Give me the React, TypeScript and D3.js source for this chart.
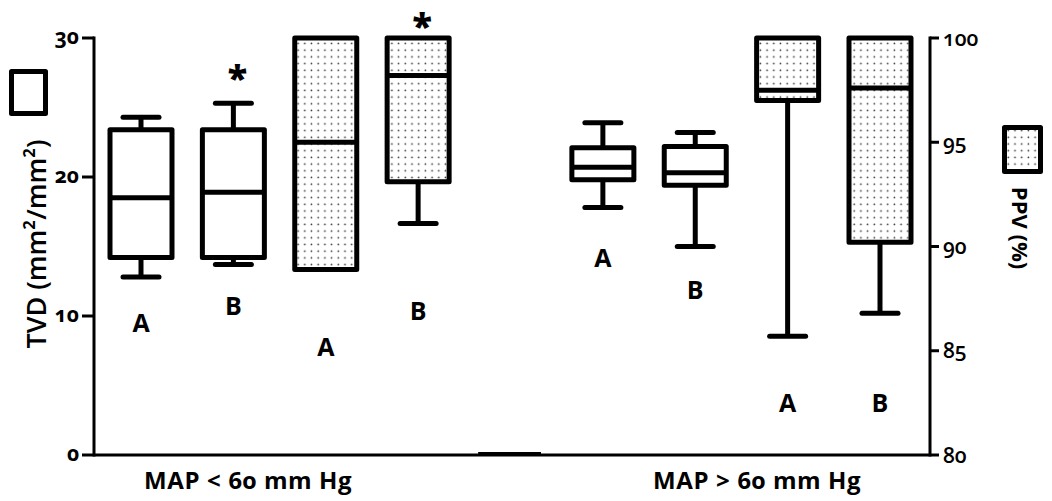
import React from "react";
import * as d3 from "d3";

// ---- data ----
const slotCount = 9; // 8 boxes + one empty gap slot between the two MAP groups
const boxSlot = [0, 1, 2, 3, 5, 6, 7, 8];
const boxSeries = ["TVD", "TVD", "PPV", "PPV", "TVD", "TVD", "PPV", "PPV"];
const boxMin = [12.8, 13.7, 88.9, 91.1, 17.8, 15.0, 85.7, 86.8];
const boxQ1 = [14.2, 14.2, 88.9, 93.1, 19.8, 19.4, 97.0, 90.2];
const boxMedian = [18.5, 18.9, 95.0, 98.2, 20.7, 20.3, 97.5, 97.6];
const boxQ3 = [23.4, 23.4, 100, 100, 22.1, 22.2, 100, 100];
const boxMax = [24.3, 25.3, 100, 100, 23.9, 23.2, 100, 100];
const boxLetter = ["A", "B", "A", "B", "A", "B", "A", "B"];
const letterValue = [9.5, 10.7, 85.2, 86.9, 14.2, 11.9, 82.5, 82.5];
const starBox = [1, 3];
const starValue = [27.8, 101.0];
const tvdTicks = [0, 10, 20, 30];
const ppvTicks = [80, 85, 90, 95, 100];
const groupLabels = ["MAP < 60 mm Hg", "MAP > 60 mm Hg"];
const groupLabelSlot = [1.16, 6.67];
const leftTitle = "TVD (mm²/mm²)";
const rightTitle = "PPV (%)";

const W = 1052;
const H = 501;
const FONT = "'Open Sans', 'DejaVu Sans', sans-serif";

export default function App() {
  const x = d3.scaleLinear().domain([0, slotCount - 1]).range([141, 880]);
  const yL = d3.scaleLinear().domain([0, 30]).range([455, 38]);
  const yR = d3.scaleLinear().domain([80, 100]).range([455, 38]);
  const axisL = 94;
  const axisR = 930;
  const boxW = 62;
  const capW = 36;
  const sw = 5;

  return (
    <svg
      width={W}
      height={H}
      style={{ position: "absolute", left: 0, top: 0, display: "block", background: "#fff" }}
      fontFamily={FONT}
    >
      <defs>
        <pattern id="dots" width={6.7} height={6.7} patternUnits="userSpaceOnUse">
          <rect width={6.7} height={6.7} fill="#fff" />
          <circle cx={3.3} cy={3.3} r={0.85} fill="#333" />
        </pattern>
      </defs>
      <rect width={W} height={H} fill="#fff" />

      {/* left axis */}
      <line x1={axisL} x2={axisL} y1={yL(30) - 1.5} y2={yL(0) + 1.5} stroke="#000" strokeWidth={3} />
      {tvdTicks.map((t) => (
        <g key={"tl" + t}>
          <line x1={axisL - 12} x2={axisL} y1={yL(t)} y2={yL(t)} stroke="#000" strokeWidth={3} />
          <text
            x={axisL - 15}
            y={yL(t)}
            dy="0.3em"
            textAnchor="end"
            fontSize={21}
            fontWeight={700}
            style={{ fontVariantNumeric: "oldstyle-nums" }}
          >
            {t}
          </text>
        </g>
      ))}

      {/* right axis */}
      <line x1={axisR} x2={axisR} y1={yR(100) - 1.5} y2={yR(80) + 1.5} stroke="#000" strokeWidth={3} />
      {ppvTicks.map((t) => (
        <g key={"tr" + t}>
          <line x1={axisR} x2={axisR + 9} y1={yR(t)} y2={yR(t)} stroke="#000" strokeWidth={3} />
          <text
            x={axisR + 13}
            y={yR(t)}
            dy="0.36em"
            textAnchor="start"
            fontSize={21}
            fontWeight={600}
            style={{ fontVariantNumeric: "oldstyle-nums" }}
          >
            {t}
          </text>
        </g>
      ))}

      {/* bottom axis */}
      <line x1={axisL} x2={axisR} y1={yL(0)} y2={yL(0)} stroke="#000" strokeWidth={3} />
      <rect x={x(3.65)} y={yL(0) - 3} width={x(4.33) - x(3.65)} height={4} fill="#000" />

      {/* boxes */}
      {boxSlot.map((s, i) => {
        const y = boxSeries[i] === "TVD" ? yL : yR;
        const cx = x(s);
        const fill = boxSeries[i] === "TVD" ? "#fff" : "url(#dots)";
        return (
          <g key={"b" + i}>
            {boxMax[i] > boxQ3[i] && (
              <g>
                <line x1={cx} x2={cx} y1={y(boxQ3[i])} y2={y(boxMax[i])} stroke="#000" strokeWidth={sw} />
                <line
                  x1={cx - capW / 2}
                  x2={cx + capW / 2}
                  y1={y(boxMax[i])}
                  y2={y(boxMax[i])}
                  stroke="#000"
                  strokeWidth={sw}
                  strokeLinecap="round"
                />
              </g>
            )}
            {boxMin[i] < boxQ1[i] && (
              <g>
                <line x1={cx} x2={cx} y1={y(boxQ1[i])} y2={y(boxMin[i])} stroke="#000" strokeWidth={sw} />
                <line
                  x1={cx - capW / 2}
                  x2={cx + capW / 2}
                  y1={y(boxMin[i])}
                  y2={y(boxMin[i])}
                  stroke="#000"
                  strokeWidth={sw}
                  strokeLinecap="round"
                />
              </g>
            )}
            <rect
              x={cx - boxW / 2}
              y={y(boxQ3[i])}
              width={boxW}
              height={y(boxQ1[i]) - y(boxQ3[i])}
              fill={fill}
              stroke="#000"
              strokeWidth={sw}
              strokeLinejoin="round"
            />
            <line
              x1={cx - boxW / 2}
              x2={cx + boxW / 2}
              y1={y(boxMedian[i])}
              y2={y(boxMedian[i])}
              stroke="#000"
              strokeWidth={sw}
            />
            <text x={cx} y={y(letterValue[i])} dy="0.36em" textAnchor="middle" fontSize={25} fontWeight={700}>
              {boxLetter[i]}
            </text>
          </g>
        );
      })}

      {/* stars */}
      {starBox.map((b, k) => {
        const y = boxSeries[b] === "TVD" ? yL : yR;
        return (
          <text key={"s" + k} x={x(boxSlot[b]) + 4} y={y(starValue[k])} dy="0.62em" textAnchor="middle" fontSize={36} fontWeight={800}>
            *
          </text>
        );
      })}

      {/* group labels */}
      {groupLabels.map((g, i) => (
        <text
          key={"g" + i}
          x={x(groupLabelSlot[i])}
          y={489}
          textAnchor="middle"
          fontSize={24}
          fontWeight={700}
          letterSpacing={0.6}
          style={{ fontVariantNumeric: "oldstyle-nums" }}
        >
          {g}
        </text>
      ))}

      {/* left title and legend */}
      <rect x={11.5} y={71.5} width={34} height={42} fill="#fff" stroke="#000" strokeWidth={5} strokeLinejoin="round" />
      <text transform="translate(46,244) rotate(-90)" textAnchor="middle" fontSize={27} fontWeight={600}>
        {leftTitle}
      </text>

      {/* right title and legend */}
      <rect x={1004.5} y={127.5} width={36} height={44} fill="url(#dots)" stroke="#000" strokeWidth={5} strokeLinejoin="round" />
      <text transform="translate(1012,228) rotate(90)" textAnchor="middle" fontSize={22} fontWeight={700}>
        {rightTitle}
      </text>
    </svg>
  );
}
